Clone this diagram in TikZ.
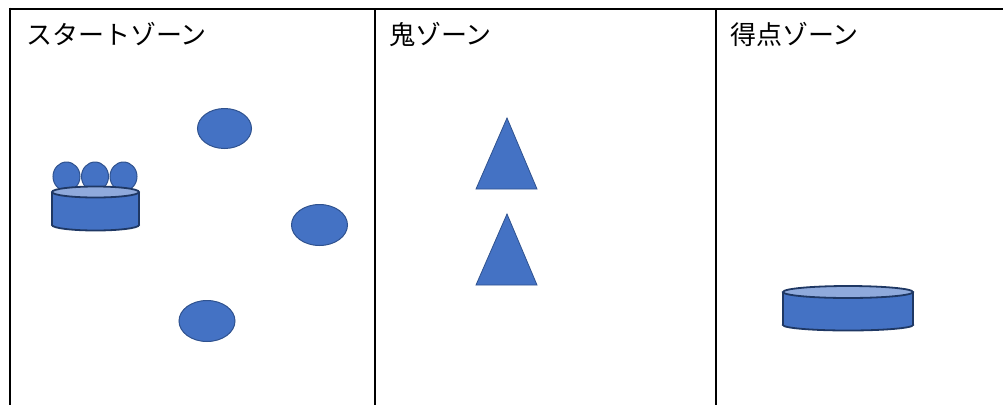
\documentclass[tikz,border=0pt]{standalone}
\usepackage{fontspec}
\newfontfamily\jp{Noto Sans CJK JP}
\definecolor{shapefill}{HTML}{4472C4}
\definecolor{shapeline}{HTML}{2F528F}
\definecolor{cylline}{HTML}{1F3864}
\definecolor{cyltop}{HTML}{8FAADC}
\tikzset{
  frameline/.style={line width=2pt, black},
  zonelabel/.style={anchor=west, inner sep=0pt, font=\jp\fontsize{26}{26}\selectfont},
  blob/.style={fill=shapefill, draw=shapeline, line width=1pt},
  tri/.style={fill=shapefill, draw=shapeline, line width=0.8pt, line join=miter},
  cylbody/.style={fill=shapefill, draw=cylline, line width=1.8pt},
  cylside/.style={draw=cylline, line width=1.8pt},
  cyltopface/.style={fill=cyltop, draw=cylline, line width=1.8pt}
}
\begin{document}
\begin{tikzpicture}[x=1pt,y=-1pt]
\useasboundingbox (0,0) rectangle (1003,405);
% frame
\draw[frameline] (9.5,8.5) -- (1003,8.5);
\draw[frameline] (9.5,7.5) -- (9.5,405);
\draw[frameline] (375,8) -- (375,405);
\draw[frameline] (716,8) -- (716,405);
% labels
\node[zonelabel] (l1) at (26,34) {スタートゾーン};
\node[zonelabel] (l2) at (389,34) {鬼ゾーン};
\node[zonelabel] (l3) at (730,34) {得点ゾーン};
% start zone players
\draw[blob] (224.5,128.5) ellipse [x radius=27, y radius=20];
\draw[blob] (319.5,225) ellipse [x radius=28, y radius=20.5];
\draw[blob] (207,321) ellipse [x radius=28, y radius=20.5];
% group of three behind basket
\draw[blob] (66.5,176.5) ellipse [x radius=13.5, y radius=14.5];
\draw[blob] (95,176.5) ellipse [x radius=13.5, y radius=14.5];
\draw[blob] (123.5,176.5) ellipse [x radius=13.5, y radius=14.5];
% cylinder 1
\draw[cylbody] (95.5,225) ellipse [x radius=43.5, y radius=5.5];
\fill[shapefill] (52,192) rectangle (139,225);
\draw[cylside] (52,192) -- (52,225) (139,192) -- (139,225);
\draw[cyltopface] (95.5,192) ellipse [x radius=43.5, y radius=5.5];
% oni triangles
\draw[tri] (507,118) -- (537,189) -- (476,189) -- cycle;
\draw[tri] (507,214) -- (537,285) -- (476,285) -- cycle;
% cylinder 2
\draw[cylbody] (848,325) ellipse [x radius=65, y radius=5.5];
\fill[shapefill] (783,292) rectangle (913,325);
\draw[cylside] (783,292) -- (783,325) (913,292) -- (913,325);
\draw[cyltopface] (848,292) ellipse [x radius=65, y radius=6];
\end{tikzpicture}
\end{document}
